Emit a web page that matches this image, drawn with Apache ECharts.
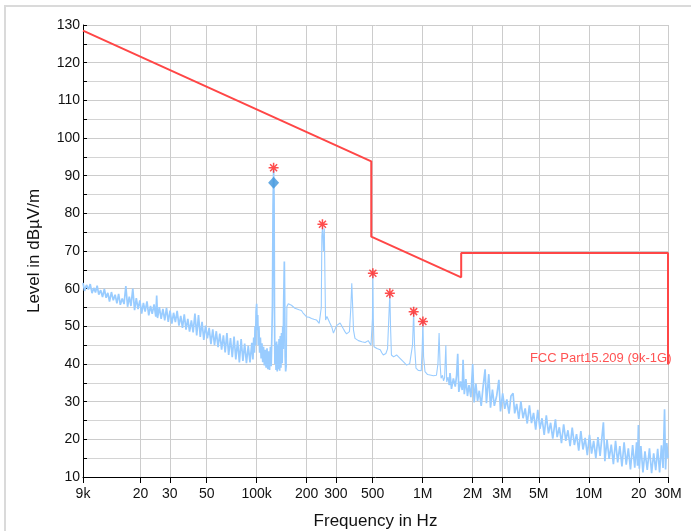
<!DOCTYPE html>
<html lang="en">
<head>
    <meta charset="UTF-8">
    <title>Spectrum</title>
    <script src="https://cdn.jsdelivr.net/npm/echarts@6.0.0/dist/echarts.min.js"></script>
    <style>
        html, body { margin: 0; padding: 0; background: #fff; }
        #frame { position: absolute; left: 4px; top: 5px; width: 720px; height: 560px; border: 2px solid #dadada; box-sizing: border-box; }
        #Echarts { position: absolute; left: 0; top: 0; width: 691px; height: 531px; }
    </style>
</head>
<body>
<div id="frame"></div>
<div id="Echarts"></div>
<script>
    // frequency in kHz, level in dBuV/m

    // x axis ticks
    var xTickValues = [9, 20, 30, 50, 100, 200, 300, 500, 1000, 2000, 3000, 5000, 10000, 20000, 30000];
    var xTickLabels = ['9k', '20', '30', '50', '100k', '200', '300', '500', '1M', '2M', '3M', '5M', '10M', '20', '30M'];

    // FCC Part15.209 limit
    var limitLine = [[9, 128.5], [490, 93.8], [490, 73.8], [1705, 63], [1705, 69.5], [30000, 69.5], [30000, 40]];

    // peak markers (red stars) and QP marker (blue diamond)
    var peakMarks = [[126.5, 92.1], [249, 77.1], [501, 64.1], [634, 58.8], [882, 53.9], [1003, 51.3]];
    var qpMarks = [[126.5, 88.1]];

    // measured trace, 9k - 95k (noise band)
    var traceLow = [
        [9.0, 61.5], [9.2, 59.4], [9.45, 61.0], [9.7, 59.8], [9.95, 61.2], [10.2, 58.8], [10.45, 60.2], [10.7, 59.0],
        [10.95, 60.8], [11.2, 58.4], [11.5, 59.6], [11.8, 57.8], [12.1, 59.9], [12.4, 57.6], [12.7, 58.9], [13.0, 56.6],
        [13.35, 59.1], [13.7, 56.9], [14.05, 58.4], [14.4, 56.1], [14.75, 58.6], [15.1, 55.7], [15.5, 57.4], [15.9, 55.9],
        [16.3, 60.7], [16.7, 55.2], [17.1, 57.9], [17.5, 55.4], [17.95, 60.0], [18.4, 54.3], [18.85, 57.5], [19.3, 54.6],
        [19.8, 56.9], [20.3, 53.4], [20.8, 56.2], [21.3, 53.9], [21.85, 56.6], [22.4, 52.9], [22.95, 55.4], [23.5, 53.3],
        [24.1, 55.8], [24.7, 52.6], [25.0, 58.2], [25.3, 52.2], [25.95, 55.1], [26.6, 52.0], [27.25, 54.6], [27.95, 51.6],
        [28.65, 54.9], [29.35, 51.2], [30.1, 54.2], [30.85, 50.7], [31.6, 53.6], [32.4, 51.1], [33.2, 54.1], [34.05, 50.2],
        [34.9, 52.8], [35.75, 49.6], [36.65, 53.2], [37.55, 49.1], [38.5, 52.0], [39.45, 48.6], [40.45, 51.6], [41.45, 48.4],
        [42.5, 53.4], [43.55, 47.6], [44.65, 53.0], [45.75, 47.2], [46.9, 51.2], [48.05, 46.4], [49.25, 50.2], [50.5, 46.8],
        [51.75, 49.6], [53.05, 45.3], [54.4, 49.2], [55.75, 45.0], [57.15, 48.7], [58.55, 44.5], [60, 48.1], [61.5, 43.8],
        [63.05, 47.6], [64.6, 43.1], [66.2, 48.2], [67.85, 42.4], [69.55, 46.9], [71.3, 41.8], [73.1, 47.3], [74.9, 41.2],
        [76.8, 46.2], [78.7, 40.4], [80.65, 46.6], [82.65, 40.8], [84.7, 45.4], [86.8, 40.2], [89, 44.8], [91.2, 40.4],
        [93.5, 45.6], [95, 41.2]
    ];

    // 95k - 152k, fundamental and its neighbours
    var traceHarm = [
        [96, 47], [97, 43], [97.8, 50], [98.5, 45], [99.2, 54], [100, 56], [100.8, 49], [101.5, 53], [102.3, 45],
        [103.2, 50], [104.2, 43], [105.3, 47], [106.4, 41.5], [107.6, 45.5], [108.8, 40.5], [110, 44.6], [111.3, 39.6],
        [112.6, 43.8], [114, 39], [115.4, 44.2], [116.8, 38.6], [118.2, 43.4], [119.6, 38.4], [121, 44.6], [122.3, 39.4],
        [123.4, 47], [124.5, 56], [125.5, 82], [126.5, 91.5], [127.3, 84], [128, 55], [128.8, 40], [129.8, 45.6],
        [130.8, 38.4], [131.9, 46], [133, 38], [134.1, 45.2], [135.2, 38.6], [136.4, 46.6], [137.6, 38.2], [138.8, 47.4],
        [140, 39], [141.2, 48.2], [142.4, 40.2], [143.6, 50], [144.6, 44], [145.4, 56], [146.2, 62], [146.8, 67.2],
        [147.6, 55], [148.5, 42], [149.5, 38], [151, 40]
    ];

    // 152k - 1.45M, clean part with harmonics
    var traceMid = [
        [152, 55.2], [155, 56], [158, 56], [162, 55.6], [166, 55.2], [170, 54.8], [174, 54.5], [180, 54.4],
        [186, 54.2], [190, 53.6], [195, 53.5], [200, 52.5], [207, 52.4], [214, 52.1], [221, 51.9], [229, 51.7],
        [234, 51.2], [238, 50.8], [242, 50.5], [245, 55], [247, 74], [249.5, 76.5], [252.5, 70], [255.5, 76],
        [258, 62], [260, 51.7], [265, 52.6], [270, 52.1], [276, 50.9], [283, 49.9], [290, 48.2], [296, 48.4],
        [303, 50.2], [310, 50.4], [318, 50.9], [325, 50.8], [332, 49.4], [340, 48.6], [348, 48], [356, 47.7],
        [362, 48.6], [369, 55], [374, 61.4], [378, 56], [383, 49], [391, 46.8], [400, 46.7], [410, 46.2],
        [419, 46.4], [430, 45.9], [440, 45.4], [450, 45.7], [460, 45.5], [470, 46.2], [481, 46.4], [488, 45],
        [494, 44.6], [498, 52], [501, 64], [504, 52], [509, 44.6], [520, 44.6], [530, 44.1], [540, 44.2],
        [555, 43.8], [567, 43], [579, 42.4], [590, 42.6], [600, 42.8], [614, 44], [626, 53], [634, 58.8],
        [640, 50], [648, 42.4], [658, 42.2], [668, 41.9], [680, 42.3], [696, 42.4], [713, 42.2], [730, 41.5],
        [748, 41.2], [764, 40.6], [780, 40.2], [800, 39.7], [819, 39.7], [835, 40.1], [850, 40.2], [868, 45],
        [882, 53.9], [893, 45], [911, 38.9], [925, 38.5], [940, 38.3], [963, 38], [980, 38.2], [994, 45],
        [1003, 51.3], [1012, 42], [1032, 38], [1050, 37.6], [1070, 37.2], [1090, 37.5], [1107, 37.1], [1130, 36.8],
        [1160, 36.9], [1186, 36.6], [1210, 37], [1235, 40], [1255, 48.2], [1272, 40], [1290, 36.2], [1315, 37],
        [1335, 35.5], [1355, 36.4], [1378, 45], [1395, 35.2], [1420, 36.5], [1445, 34.4]
    ];

    // 1.46M - 30M (noise band)
    var traceHigh = [
        [1460, 37.6], [1490, 33.4], [1530, 36.2], [1570, 34.0], [1600, 37.0], [1625, 42.7], [1650, 32.6], [1690, 35.4],
        [1730, 33.1], [1750, 41.1], [1780, 32.0], [1820, 36.0], [1860, 31.5], [1900, 34.4], [1950, 31.2], [2000, 40.0],
        [2040, 29.8], [2090, 34.8], [2140, 30.2], [2190, 32.9], [2250, 28.9], [2310, 34.0], [2375, 38.6], [2420, 29.6],
        [2500, 37.3], [2560, 28.4], [2630, 33.2], [2700, 28.9], [2790, 31.6], [2875, 35.8], [2940, 27.4], [3030, 32.2],
        [3120, 28.1], [3210, 30.6], [3310, 26.8], [3400, 31.5], [3500, 32.2], [3580, 26.9], [3680, 29.4], [3790, 25.4],
        [3900, 30.1], [4020, 25.6], [4140, 28.2], [4260, 24.2], [4390, 29.0], [4520, 24.3], [4650, 27.0], [4790, 22.6],
        [4930, 27.8], [5080, 22.8], [5230, 25.6], [5390, 21.2], [5550, 26.4], [5720, 21.6], [5890, 24.4], [6070, 20.2],
        [6300, 25.3], [6450, 20.6], [6650, 23.2], [6850, 19.0], [7060, 24.0], [7270, 19.6], [7490, 22.4], [7720, 18.2],
        [7950, 23.1], [8190, 18.5], [8440, 21.4], [8700, 17.0], [8960, 22.2], [9230, 17.3], [9510, 20.4], [9800, 15.8],
        [10100, 21.2], [10400, 16.2], [10700, 19.6], [11030, 15.0], [11360, 20.6], [11700, 15.6], [12250, 24.5], [12500, 14.2],
        [12880, 19.9], [13260, 14.8], [13660, 18.6], [14070, 13.4], [14500, 19.6], [14930, 13.9], [15380, 18.2], [15840, 12.8],
        [16320, 19.2], [16810, 13.3], [17310, 17.6], [17830, 12.0], [18370, 18.5], [18920, 12.5], [19400, 19.2], [19650, 13],
        [19900, 23.8], [20150, 12.2], [20600, 18.2], [21200, 11.2], [21800, 16.8], [22500, 11.9], [23200, 17.6], [23900, 11.0],
        [24600, 16.3], [25300, 11.8], [26000, 17.5], [26700, 11.2], [27400, 18.4], [28000, 12.4], [28600, 28], [29000, 12.0],
        [29500, 19.0], [30000, 15]
    ];

    function tickLabel(v) {
        for (var i = 0; i < xTickValues.length; i++) {
            if (Math.abs(v - xTickValues[i]) / xTickValues[i] < 0.01) {
                return xTickLabels[i];
            }
        }
        return '';
    }

    // same trace, noisy parts drawn a bit heavier
    function traceSeries(data, width) {
        return {
            name: 'trace',
            type: 'line',
            data: data,
            showSymbol: false,
            symbol: 'none',
            sampling: 'none',
            lineStyle: { color: '#99ccff', width: width },
            z: 2
        };
    }

    var myChart = echarts.init(document.getElementById('Echarts'));
    var font = 'Liberation Sans, Arial, sans-serif';

    option = {
        animation: false,
        backgroundColor: 'transparent',
        grid: {
            left: 83,
            right: 23,
            top: 25,
            bottom: 54,
            outerBoundsMode: 'none'
        },
        xAxis: {
            type: 'log',
            logBase: 10,
            min: 9,
            max: 30000,
            name: 'Frequency in Hz',
            nameLocation: 'middle',
            nameGap: 36,
            nameTextStyle: { fontFamily: font, fontSize: 17, color: '#111' },
            axisLine: { show: true, lineStyle: { color: '#000', width: 1 } },
            axisTick: { show: true, length: 6, customValues: xTickValues, lineStyle: { color: '#000' } },
            axisLabel: {
                customValues: xTickValues,
                margin: 10,
                fontFamily: font,
                fontSize: 14,
                color: '#111',
                formatter: tickLabel
            },
            splitLine: { show: true, lineStyle: { color: '#cccccc', width: 1 } }
        },
        yAxis: {
            type: 'value',
            min: 10,
            max: 130,
            interval: 10,
            name: 'Level in dBµV/m',
            nameLocation: 'middle',
            nameGap: 40,
            nameRotate: 90,
            nameTextStyle: { fontFamily: font, fontSize: 17, color: '#111' },
            axisLine: { show: true, lineStyle: { color: '#000', width: 1 } },
            axisTick: { show: true, inside: true, length: 4, lineStyle: { color: '#000' } },
            minorTick: { show: true, splitNumber: 2, length: 4, lineStyle: { color: '#000' } },
            axisLabel: { margin: 3, fontFamily: font, fontSize: 14, color: '#111' },
            splitLine: { show: true, lineStyle: { color: '#cccccc', width: 1 } },
            minorSplitLine: { show: true, lineStyle: { color: '#d4d4d4', width: 1 } }
        },
        series: [
            traceSeries(traceLow.concat(traceHarm), 1.7),
            traceSeries(traceHarm.slice(-1).concat(traceMid), 1.1),
            traceSeries(traceMid.slice(-1).concat(traceHigh), 1.7),
            {
                name: 'limit',
                type: 'line',
                data: limitLine,
                showSymbol: false,
                symbol: 'none',
                clip: false,
                lineStyle: { color: '#ff4646', width: 2 },
                z: 3,
                markPoint: {
                    symbol: 'circle',
                    symbolSize: 1,
                    itemStyle: { color: 'transparent' },
                    data: [{
                        coord: [30000, 40],
                        label: {
                            show: true,
                            formatter: 'FCC Part15.209 (9k-1G)',
                            position: 'left',
                            distance: -4,
                            offset: [0, -6],
                            fontFamily: font,
                            fontSize: 13,
                            color: '#ff5252'
                        }
                    }]
                }
            },
            {
                name: 'peak',
                type: 'scatter',
                data: peakMarks,
                symbol: 'path://M5,0L5,10M0,5L10,5M1.5,1.5L8.5,8.5M1.5,8.5L8.5,1.5',
                symbolSize: 10,
                itemStyle: { color: 'rgba(0,0,0,0)', borderColor: '#ff2020', borderWidth: 1.5 },
                z: 5
            },
            {
                name: 'qp',
                type: 'scatter',
                data: qpMarks,
                symbol: 'diamond',
                symbolSize: [11, 12],
                itemStyle: { color: '#3f95dc' },
                z: 4
            }
        ]
    };

    myChart.setOption(option);
</script>
</body>
</html>
